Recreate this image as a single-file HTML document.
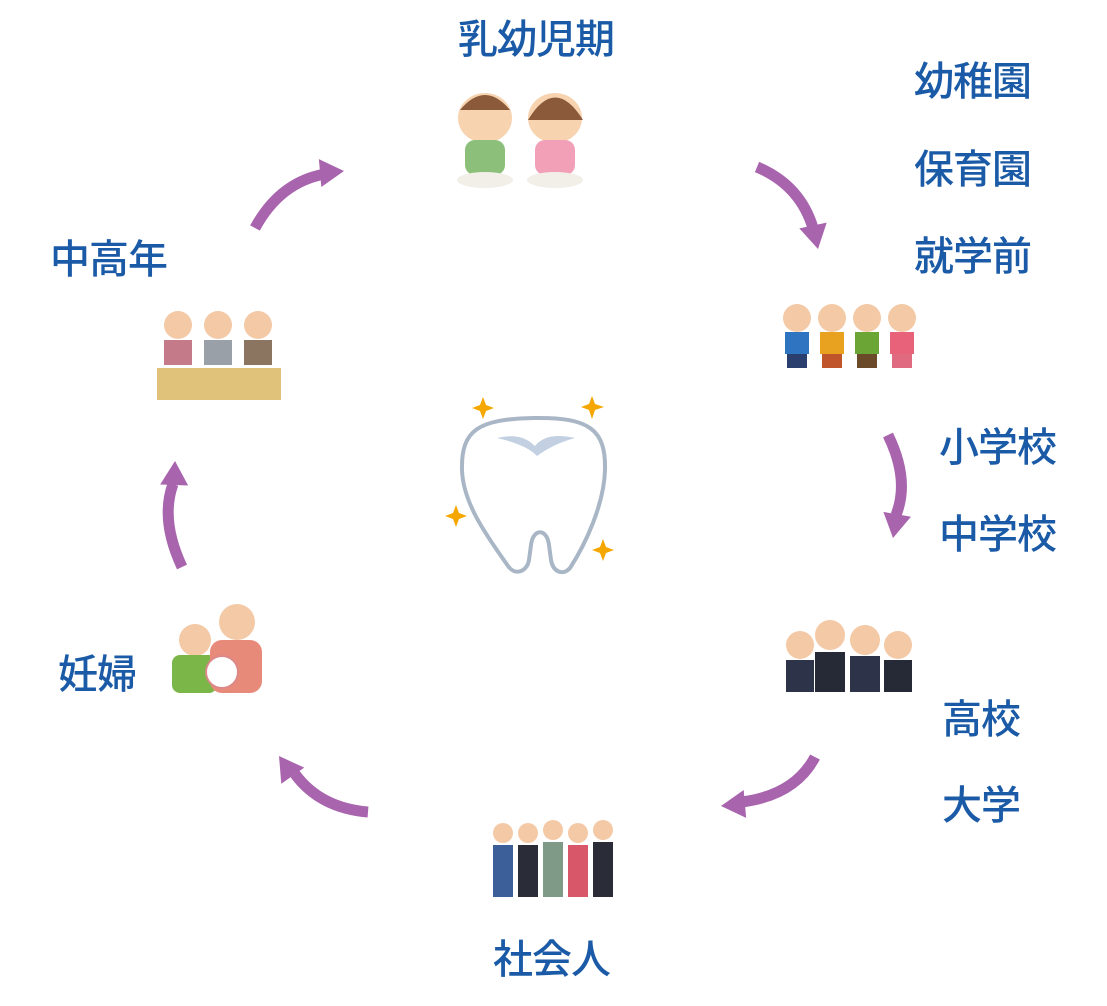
<!DOCTYPE html>
<html><head><meta charset="utf-8"><style>
body{margin:0;background:#fff;width:1107px;height:1006px;overflow:hidden;position:relative;font-family:"Liberation Sans","Noto Sans CJK JP",sans-serif}
.t{position:absolute;color:#1a5aa6;font-size:40px;font-weight:500;line-height:1;letter-spacing:-1px;white-space:nowrap}
svg{position:absolute;left:0;top:0}
</style></head><body>
<svg width="1107" height="1006">
<g fill="none" stroke="#a864ad" stroke-width="11" stroke-linecap="butt">
<path d="M255,228 Q280,182 325,174"/>
<path d="M757,167 Q800,185 813,228"/>
<path d="M888,435 Q910,480 896,515"/>
<path d="M815,757 Q795,795 742,802"/>
<path d="M368,812 Q320,808 295,774"/>
<path d="M182,567 Q160,520 173,484"/>
</g>
<g fill="#a864ad">
<polygon points="0,0 -24,-14 -24,14" transform="translate(344,171) rotate(-5)"/>
<polygon points="0,0 -24,-14 -24,14" transform="translate(818,249) rotate(78)"/>
<polygon points="0,0 -24,-14 -24,14" transform="translate(893,538) rotate(100)"/>
<polygon points="0,0 -24,-14 -24,14" transform="translate(721,806) rotate(175)"/>
<polygon points="0,0 -24,-14 -24,14" transform="translate(279,756) rotate(-125)"/>
<polygon points="0,0 -24,-14 -24,14" transform="translate(175,461) rotate(-88)"/>
</g>
<!-- tooth -->
<path d="M534,418 C590,417 606,430 605,470 C604,505 585,545 570,568 C563,576 553,572 551,560 L549,545 C547,528 533,528 531,545 L529,560 C527,572 515,576 508,566 C490,540 463,505 462,470 C461,430 478,419 534,418 Z" fill="#fff" stroke="#a9b6c6" stroke-width="4"/>
<path d="M497,438 C520,433 528,440 535,446 C542,438 552,433 575,438 C560,442 548,448 537,456 C530,448 515,442 497,438Z" fill="#c2d0e2"/>
<g fill="#f5a700">
<path d="M483,397 l3,8 8,3 -8,3 -3,8 -3,-8 -8,-3 8,-3z"/>
<path d="M592,396 l3,8 9,3 -9,3 -3,9 -3,-9 -8,-3 8,-3z"/>
<path d="M456,505 l3,8 8,3 -8,3 -3,8 -3,-8 -8,-3 8,-3z"/>
<path d="M603,539 l3,8 8,3 -8,3 -3,8 -3,-8 -8,-3 8,-3z"/>
</g>
<!-- babies -->
<g>
<ellipse cx="485" cy="118" rx="27" ry="25" fill="#f7d3b0"/><path d="M460,110 q25,-30 50,0" fill="#8a5a3a"/>
<rect x="465" y="140" width="40" height="35" rx="10" fill="#8cc07a"/><ellipse cx="485" cy="180" rx="28" ry="8" fill="#f2efe8"/>
<ellipse cx="555" cy="118" rx="27" ry="25" fill="#f7d3b0"/><path d="M528,120 q27,-45 55,0" fill="#8a5a3a"/>
<rect x="535" y="140" width="40" height="35" rx="10" fill="#f2a0b8"/><ellipse cx="555" cy="180" rx="28" ry="8" fill="#f2efe8"/>
</g>
<!-- kids -->
<g>
<circle cx="797" cy="318" r="14" fill="#f4c9a5"/><rect x="785" y="332" width="24" height="22" fill="#2f74c0"/><rect x="787" y="354" width="20" height="14" fill="#2a3f6e"/>
<circle cx="832" cy="318" r="14" fill="#f4c9a5"/><rect x="820" y="332" width="24" height="22" fill="#e9a120"/><rect x="822" y="354" width="20" height="14" fill="#c0542a"/>
<circle cx="867" cy="318" r="14" fill="#f4c9a5"/><rect x="855" y="332" width="24" height="22" fill="#6aa536"/><rect x="857" y="354" width="20" height="14" fill="#6b4a2a"/>
<circle cx="902" cy="318" r="14" fill="#f4c9a5"/><rect x="890" y="332" width="24" height="22" fill="#e8627a"/><rect x="892" y="354" width="20" height="14" fill="#e06a80"/>
</g>
<!-- students -->
<g>
<circle cx="800" cy="645" r="14" fill="#f4c9a5"/><rect x="786" y="660" width="28" height="32" fill="#2d3348"/>
<circle cx="830" cy="635" r="15" fill="#f4c9a5"/><rect x="815" y="652" width="30" height="40" fill="#262a36"/>
<circle cx="865" cy="640" r="15" fill="#f4c9a5"/><rect x="850" y="656" width="30" height="36" fill="#2d3348"/>
<circle cx="898" cy="645" r="14" fill="#f4c9a5"/><rect x="884" y="660" width="28" height="32" fill="#262a36"/>
</g>
<!-- workers -->
<g>
<circle cx="503" cy="833" r="10" fill="#f4c9a5"/><rect x="493" y="845" width="20" height="52" fill="#3c5f9a"/>
<circle cx="528" cy="833" r="10" fill="#f4c9a5"/><rect x="518" y="845" width="20" height="52" fill="#2a2d38"/>
<circle cx="553" cy="830" r="10" fill="#f4c9a5"/><rect x="543" y="842" width="20" height="55" fill="#7f9a86"/>
<circle cx="578" cy="833" r="10" fill="#f4c9a5"/><rect x="568" y="845" width="20" height="52" fill="#d8586a"/>
<circle cx="603" cy="830" r="10" fill="#f4c9a5"/><rect x="593" y="842" width="20" height="55" fill="#2a2d38"/>
</g>
<!-- pregnant -->
<g>
<circle cx="195" cy="640" r="16" fill="#f4c9a5"/><rect x="172" y="655" width="45" height="38" rx="8" fill="#7ab648"/>
<circle cx="237" cy="622" r="18" fill="#f4c9a5"/><rect x="210" y="640" width="52" height="53" rx="12" fill="#e88a7a"/>
<circle cx="222" cy="672" r="16" fill="#fff" stroke="#d88" stroke-width="2"/>
</g>
<!-- elderly -->
<g>
<circle cx="178" cy="325" r="14" fill="#f4c9a5"/><rect x="164" y="340" width="28" height="25" fill="#c57a8a"/>
<circle cx="218" cy="325" r="14" fill="#f4c9a5"/><rect x="204" y="340" width="28" height="25" fill="#9aa0a8"/>
<circle cx="258" cy="325" r="14" fill="#f4c9a5"/><rect x="244" y="340" width="28" height="25" fill="#8c7560"/>
<rect x="157" y="368" width="124" height="32" fill="#e0c27a"/>
</g>
</svg>
<div class="t" style="left:458px;top:20px">乳幼児期</div>
<div class="t" style="left:914px;top:62px">幼稚園</div>
<div class="t" style="left:914px;top:150px">保育園</div>
<div class="t" style="left:914px;top:237px">就学前</div>
<div class="t" style="left:939px;top:428px">小学校</div>
<div class="t" style="left:939px;top:515px">中学校</div>
<div class="t" style="left:942px;top:700px">高校</div>
<div class="t" style="left:942px;top:786px">大学</div>
<div class="t" style="left:493px;top:940px">社会人</div>
<div class="t" style="left:58px;top:655px">妊婦</div>
<div class="t" style="left:50px;top:240px">中高年</div>
</body></html>
